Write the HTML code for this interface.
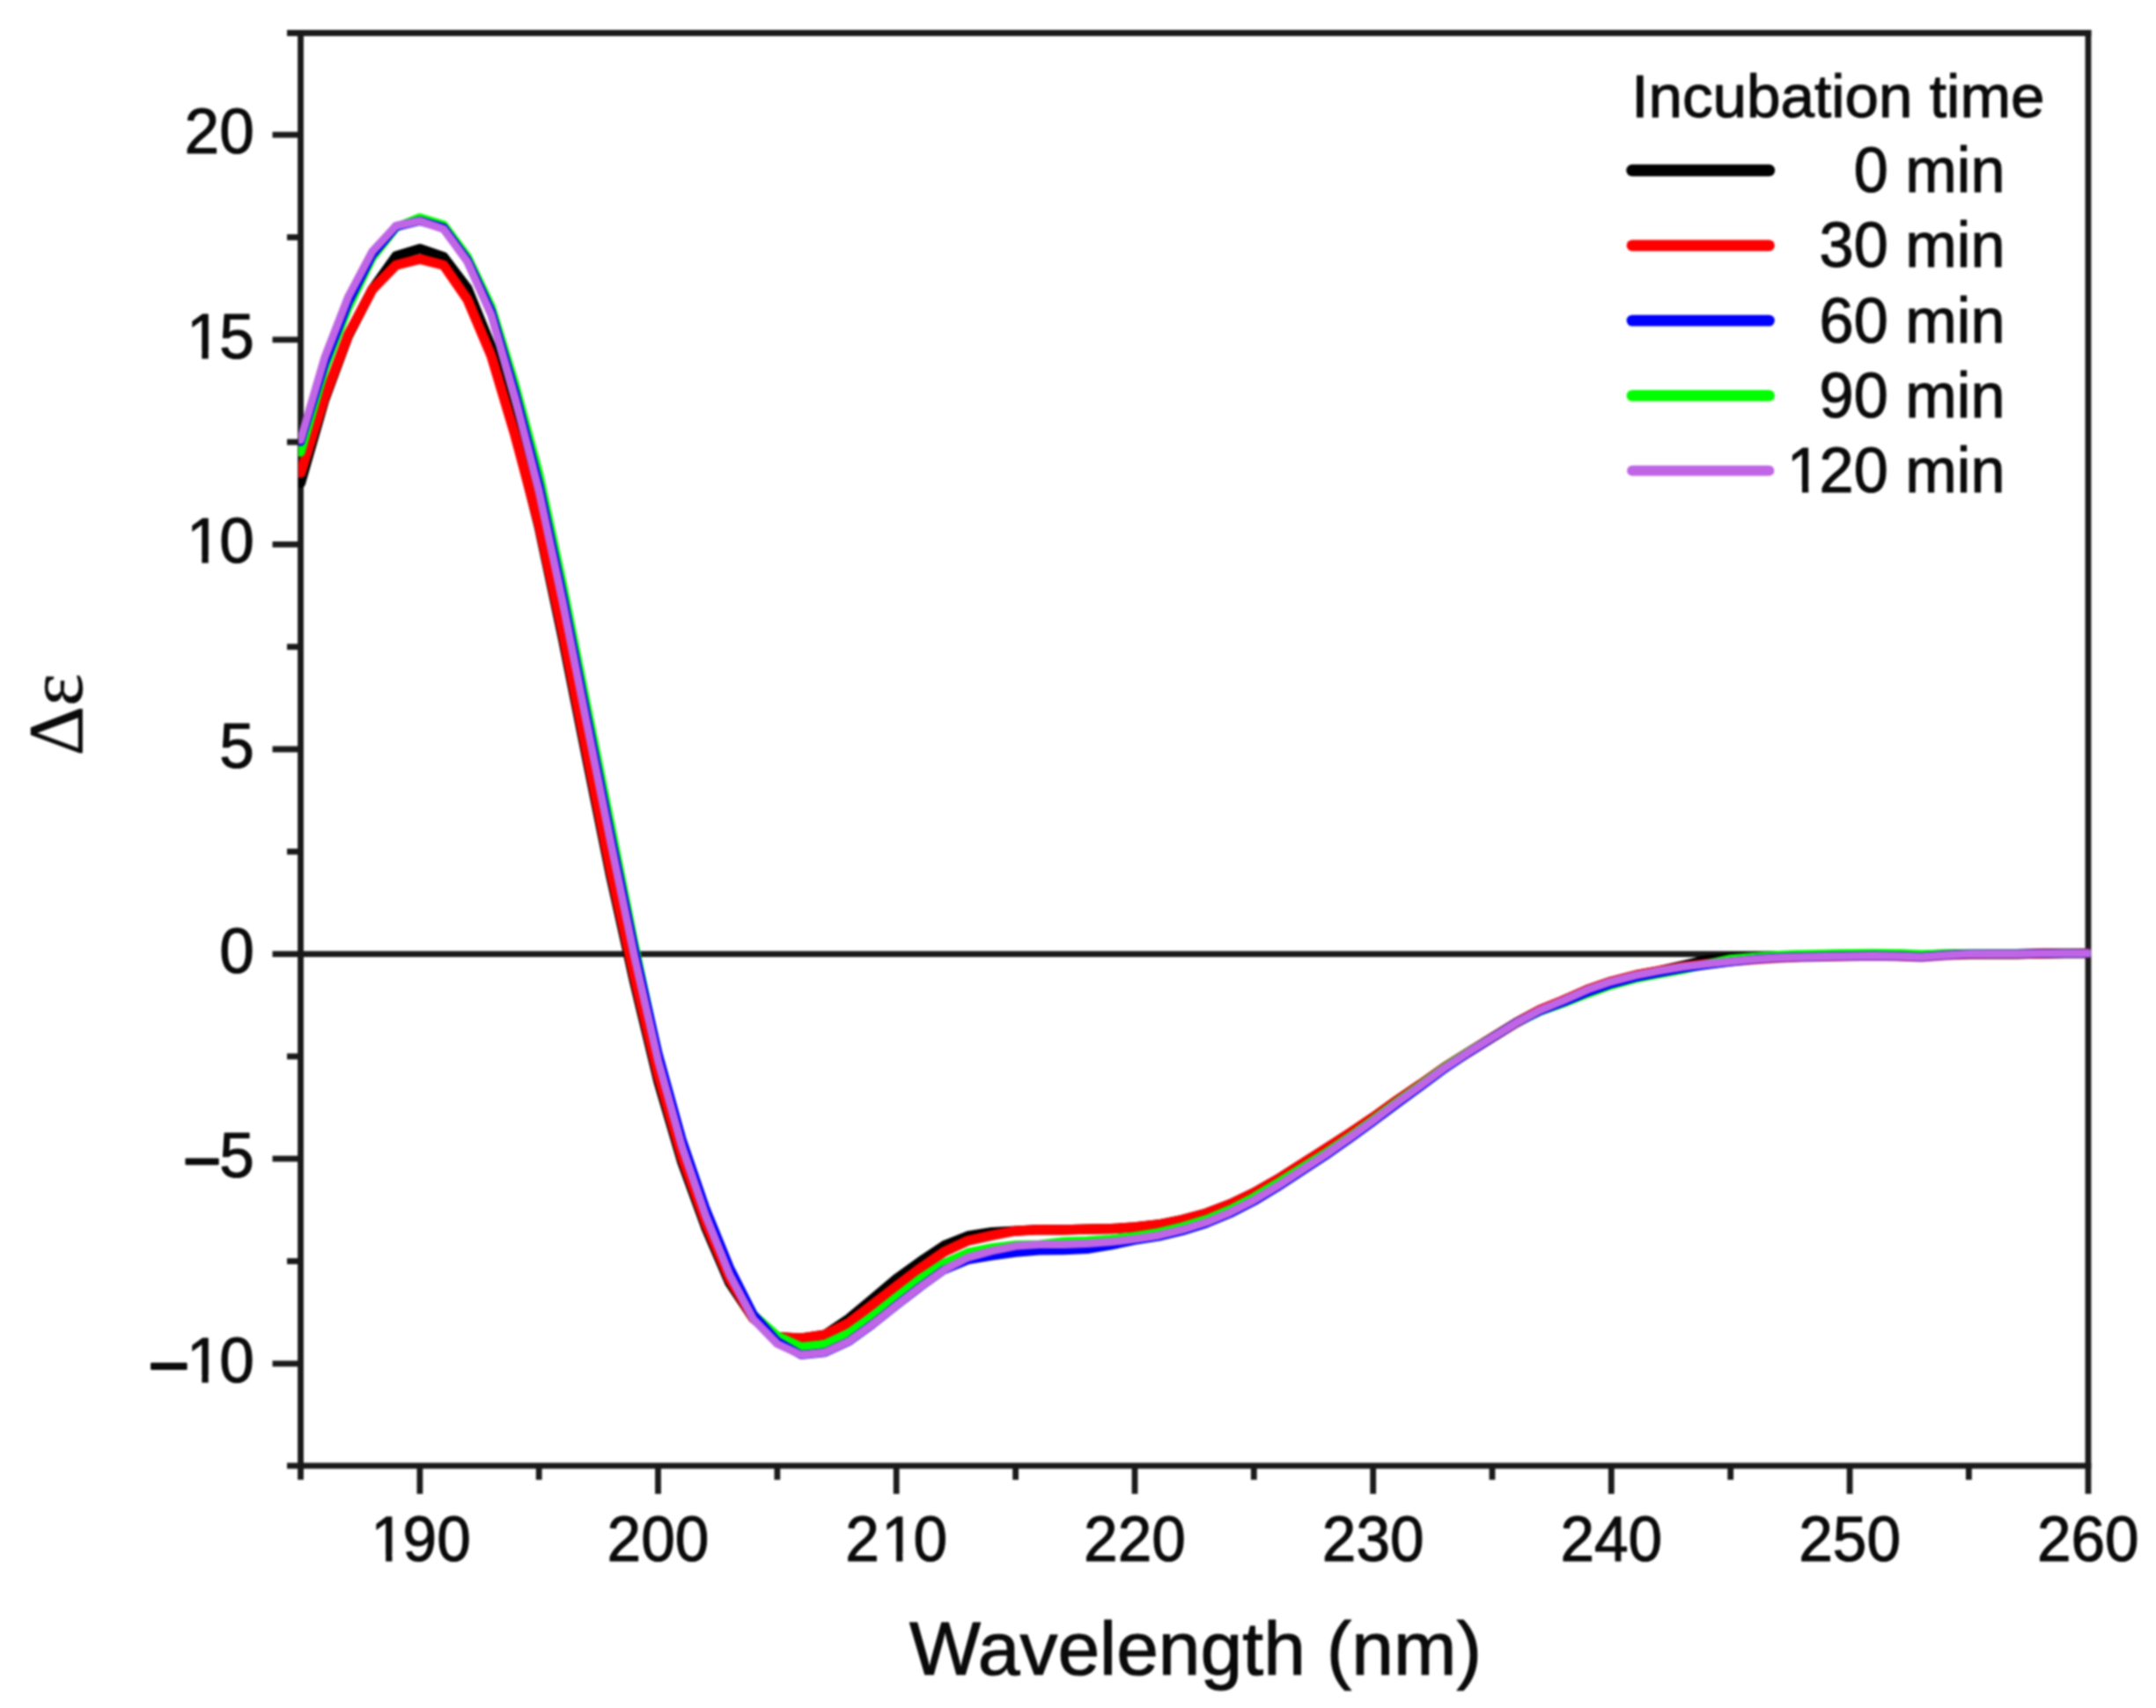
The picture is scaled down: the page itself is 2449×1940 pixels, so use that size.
<!DOCTYPE html>
<html lang="en">
<head>
<meta charset="utf-8">
<title>CD spectra – incubation time</title>
<style>
html,body{margin:0;padding:0;background:#fff;}
body{width:2449px;height:1940px;overflow:hidden;}
svg{display:block;filter:blur(1.3px);}
text{font-family:"Liberation Sans",Arial,Helvetica,sans-serif;fill:#0a0a0a;stroke:#0a0a0a;stroke-width:1.1px;stroke-linejoin:round;}
.tick{font-size:72.3px;}
.leg{font-size:72px;}
.legt{font-size:69.2px;}
.xt{font-size:85.8px;}
.yt{font-family:"Liberation Serif","DejaVu Serif",serif;font-size:88px;stroke-width:0.4px;}
.ax{stroke:#1a1a1a;stroke-width:6.8;fill:none;stroke-linecap:butt;}
.cv{fill:none;stroke-linejoin:round;stroke-linecap:round;}
.ll{fill:none;stroke-linecap:round;}
</style>
</head>
<body>
<svg width="2449" height="1940" viewBox="0 0 2449 1940">
<defs><clipPath id="pc"><rect x="339.0" y="34.5" width="2035.8" height="1633.3"/></clipPath></defs>
<rect x="0" y="0" width="2449" height="1940" fill="#ffffff"/>
<g class="ax">
<path d="M326.0 37.5 H2375.4"/>
<path d="M326.0 1664.8 H2375.4"/>
<path d="M341.5 34.1 V1680.8"/>
<path d="M2372.0 34.1 V1696.8"/>
<path d="M341.5 1083.6 H2372.0"/>
<path d="M309.5 1548.8 H341.5"/>
<path d="M326.0 1432.5 H341.5"/>
<path d="M309.5 1316.2 H341.5"/>
<path d="M326.0 1199.9 H341.5"/>
<path d="M309.5 1083.6 H341.5"/>
<path d="M326.0 967.3 H341.5"/>
<path d="M309.5 851.0 H341.5"/>
<path d="M326.0 734.7 H341.5"/>
<path d="M309.5 618.4 H341.5"/>
<path d="M326.0 502.1 H341.5"/>
<path d="M309.5 385.8 H341.5"/>
<path d="M326.0 269.5 H341.5"/>
<path d="M309.5 153.2 H341.5"/>
<path d="M476.9 1664.8 V1696.8"/>
<path d="M612.2 1664.8 V1680.8"/>
<path d="M747.5 1664.8 V1696.8"/>
<path d="M882.9 1664.8 V1680.8"/>
<path d="M1018.2 1664.8 V1696.8"/>
<path d="M1153.6 1664.8 V1680.8"/>
<path d="M1289.0 1664.8 V1696.8"/>
<path d="M1424.3 1664.8 V1680.8"/>
<path d="M1559.7 1664.8 V1696.8"/>
<path d="M1695.0 1664.8 V1680.8"/>
<path d="M1830.3 1664.8 V1696.8"/>
<path d="M1965.7 1664.8 V1680.8"/>
<path d="M2101.1 1664.8 V1696.8"/>
<path d="M2236.4 1664.8 V1680.8"/>
</g>
<g clip-path="url(#pc)">
<polyline class="cv" stroke="#000000" stroke-width="11.2" points="341.5,548.6 368.6,454.2 395.6,381.4 422.7,329.0 449.8,290.9 476.9,282.5 503.9,291.8 531.0,327.6 558.1,394.2 585.1,490.0 612.2,598.4 639.3,725.4 666.3,860.1 693.4,993.8 720.5,1115.2 747.5,1227.3 774.6,1319.6 801.7,1394.2 828.8,1457.2 855.8,1497.6 882.9,1518.6 910.0,1520.0 937.0,1516.1 964.1,1497.8 991.2,1475.3 1018.2,1452.5 1045.3,1433.0 1072.4,1414.8 1099.5,1403.9 1126.5,1399.5 1153.6,1398.1 1180.7,1396.7 1207.7,1396.9 1234.8,1396.2 1261.9,1395.7 1289.0,1393.9 1316.0,1390.9 1343.1,1385.5 1370.2,1378.1 1397.2,1367.8 1424.3,1354.8 1451.4,1339.5 1478.4,1322.2 1505.5,1305.0 1532.6,1287.4 1559.7,1269.2 1586.7,1249.9 1613.8,1231.5 1640.9,1212.2 1667.9,1195.2 1695.0,1178.5 1722.1,1161.8 1749.1,1147.3 1776.2,1136.2 1803.3,1124.1 1830.3,1114.8 1857.4,1107.8 1884.5,1102.7 1911.6,1096.6 1938.6,1090.1 1965.7,1087.8 1992.8,1087.3 2019.8,1085.7 2046.9,1085.0 2074.0,1084.5 2101.1,1084.1 2128.1,1083.6 2155.2,1084.1 2182.3,1085.0 2209.3,1084.1 2236.4,1083.6 2263.5,1083.6 2290.5,1083.6 2317.6,1083.1 2344.7,1082.7 2371.8,1082.7"/>
<polyline class="cv" stroke="#ff0000" stroke-width="11.2" points="341.5,537.0 368.6,451.9 395.6,380.2 422.7,329.0 449.8,301.1 476.9,294.2 503.9,301.1 531.0,340.2 558.1,404.4 585.1,494.7 612.2,596.1 639.3,719.3 666.3,854.0 693.4,987.8 720.5,1109.2 747.5,1221.3 774.6,1314.3 801.7,1389.7 828.8,1453.4 855.8,1497.6 882.9,1518.6 910.0,1520.0 937.0,1516.1 964.1,1502.4 991.2,1481.8 1018.2,1460.9 1045.3,1440.6 1072.4,1421.8 1099.5,1409.2 1126.5,1403.2 1153.6,1398.1 1180.7,1396.7 1207.7,1396.9 1234.8,1396.2 1261.9,1395.7 1289.0,1393.9 1316.0,1390.9 1343.1,1385.5 1370.2,1378.1 1397.2,1367.8 1424.3,1354.8 1451.4,1339.5 1478.4,1322.2 1505.5,1305.0 1532.6,1287.4 1559.7,1269.2 1586.7,1249.9 1613.8,1231.5 1640.9,1212.2 1667.9,1195.2 1695.0,1178.5 1722.1,1161.8 1749.1,1147.3 1776.2,1136.2 1803.3,1124.1 1830.3,1114.8 1857.4,1107.8 1884.5,1102.7 1911.6,1098.0 1938.6,1094.8 1965.7,1092.0 1992.8,1089.6 2019.8,1087.8 2046.9,1086.9 2074.0,1086.4 2101.1,1085.9 2128.1,1085.5 2155.2,1085.9 2182.3,1086.9 2209.3,1085.0 2236.4,1083.6 2263.5,1083.6 2290.5,1083.6 2317.6,1083.1 2344.7,1082.7 2371.8,1082.7"/>
<polyline class="cv" stroke="#00ff00" stroke-width="10" points="341.5,513.7 368.6,419.8 395.6,349.0 422.7,292.8 449.8,258.3 476.9,247.2 503.9,255.5 531.0,291.8 558.1,348.6 585.1,437.0 612.2,538.4 639.3,664.9 666.3,800.8 693.4,935.7 720.5,1072.0 747.5,1199.0 774.6,1297.3 801.7,1377.0 828.8,1444.1 855.8,1493.0 882.9,1517.2 910.0,1529.7 937.0,1526.9 964.1,1514.4 991.2,1494.8 1018.2,1473.4 1045.3,1452.5 1072.4,1434.8 1099.5,1422.7 1126.5,1417.1 1153.6,1413.9 1180.7,1413.4 1207.7,1410.2 1234.8,1409.2 1261.9,1407.4 1289.0,1404.1 1316.0,1399.9 1343.1,1393.4 1370.2,1385.0 1397.2,1373.9 1424.3,1359.9 1451.4,1343.6 1478.4,1326.7 1505.5,1309.8 1532.6,1291.5 1559.7,1272.1 1586.7,1251.8 1613.8,1232.4 1640.9,1212.5 1667.9,1195.0 1695.0,1178.4 1722.1,1161.8 1749.1,1148.9 1776.2,1139.3 1803.3,1128.7 1830.3,1119.1 1857.4,1111.7 1884.5,1106.3 1911.6,1101.3 1938.6,1095.0 1965.7,1089.2 1992.8,1086.9 2019.8,1085.0 2046.9,1084.1 2074.0,1083.6 2101.1,1083.1 2128.1,1082.7 2155.2,1083.1 2182.3,1084.1 2209.3,1083.4 2236.4,1083.1 2263.5,1083.2 2290.5,1083.3 2317.6,1082.9 2344.7,1082.6 2371.8,1082.7"/>
<polyline class="cv" stroke="#0000ff" stroke-width="10" points="341.5,501.6 368.6,412.8 395.6,343.0 422.7,289.5 449.8,257.4 476.9,250.9 503.9,258.8 531.0,295.6 558.1,354.2 585.1,446.3 612.2,550.9 639.3,677.5 666.3,813.3 693.4,948.2 720.5,1078.0 747.5,1196.2 774.6,1293.9 801.7,1373.0 828.8,1439.5 855.8,1493.0 882.9,1523.7 910.0,1539.0 937.0,1536.2 964.1,1523.7 991.2,1504.1 1018.2,1482.7 1045.3,1461.8 1072.4,1442.3 1099.5,1431.1 1126.5,1426.5 1153.6,1422.7 1180.7,1420.6 1207.7,1420.2 1234.8,1419.0 1261.9,1414.6 1289.0,1408.8 1316.0,1404.6 1343.1,1398.1 1370.2,1389.7 1397.2,1378.5 1424.3,1364.6 1451.4,1348.3 1478.4,1330.6 1505.5,1312.9 1532.6,1293.9 1559.7,1274.3 1586.7,1253.9 1613.8,1234.3 1640.9,1214.0 1667.9,1195.9 1695.0,1178.8 1722.1,1161.8 1749.1,1148.3 1776.2,1138.0 1803.3,1126.9 1830.3,1117.3 1857.4,1110.1 1884.5,1104.8 1911.6,1099.9 1938.6,1096.0 1965.7,1092.6 1992.8,1089.6 2019.8,1087.8 2046.9,1086.9 2074.0,1086.4 2101.1,1085.9 2128.1,1085.5 2155.2,1085.9 2182.3,1086.9 2209.3,1085.0 2236.4,1083.6 2263.5,1083.6 2290.5,1083.6 2317.6,1083.1 2344.7,1082.7 2371.8,1082.7"/>
<polyline class="cv" stroke="#bf65e5" stroke-width="9" points="341.5,499.8 368.6,406.7 395.6,337.0 422.7,285.8 449.8,256.5 476.9,250.9 503.9,260.2 531.0,297.4 558.1,357.9 585.1,451.9 612.2,557.9 639.3,684.5 666.3,820.3 693.4,955.2 720.5,1085.9 747.5,1204.6 774.6,1302.2 801.7,1381.3 828.8,1447.9 855.8,1498.6 882.9,1526.5 910.0,1539.0 937.0,1536.2 964.1,1523.7 991.2,1504.1 1018.2,1482.7 1045.3,1461.8 1072.4,1442.3 1099.5,1428.3 1126.5,1420.9 1153.6,1415.3 1180.7,1413.4 1207.7,1413.4 1234.8,1412.5 1261.9,1410.6 1289.0,1407.4 1316.0,1403.2 1343.1,1396.7 1370.2,1388.3 1397.2,1377.1 1424.3,1363.2 1451.4,1346.9 1478.4,1329.2 1505.5,1311.5 1532.6,1292.5 1559.7,1272.9 1586.7,1252.5 1613.8,1232.9 1640.9,1212.9 1667.9,1195.2 1695.0,1178.5 1722.1,1161.8 1749.1,1147.3 1776.2,1136.2 1803.3,1124.1 1830.3,1114.8 1857.4,1107.8 1884.5,1102.7 1911.6,1098.0 1938.6,1094.8 1965.7,1092.0 1992.8,1089.6 2019.8,1087.8 2046.9,1086.9 2074.0,1086.4 2101.1,1085.9 2128.1,1085.5 2155.2,1085.9 2182.3,1086.9 2209.3,1085.0 2236.4,1083.6 2263.5,1083.6 2290.5,1083.6 2317.6,1083.1 2344.7,1082.7 2371.8,1082.7"/>
</g>
<g transform="translate(288.8,174.2) scale(0.985,1)"><text class="tick" x="-80.42 -40.21" y="0">20</text></g>
<g transform="translate(288.8,406.8) scale(0.985,1)"><text class="tick" x="-78.02 -40.21" y="0">15</text><rect x="-73.91" y="-7.80" width="13.52" height="9.60" fill="#fff"/><rect x="-52.90" y="-7.80" width="12.96" height="9.60" fill="#fff"/></g>
<g transform="translate(288.8,639.4) scale(0.985,1)"><text class="tick" x="-78.02 -40.21" y="0">10</text><rect x="-73.91" y="-7.80" width="13.52" height="9.60" fill="#fff"/><rect x="-52.90" y="-7.80" width="12.96" height="9.60" fill="#fff"/></g>
<g transform="translate(288.8,872.0) scale(0.985,1)"><text class="tick" x="-40.21" y="0">5</text></g>
<g transform="translate(288.8,1104.6) scale(0.985,1)"><text class="tick" x="-40.21" y="0">0</text></g>
<g transform="translate(288.8,1337.2) scale(0.985,1)"><text class="tick" x="-82.10 -40.21" y="0"><tspan style="font-size:75px;stroke-width:2.4px" dy="6.7">−</tspan><tspan dy="-6.7">5</tspan></text></g>
<g transform="translate(288.8,1569.8) scale(0.985,1)"><text class="tick" x="-122.31 -78.02 -40.21" y="0"><tspan style="font-size:82px;stroke-width:2.4px" dy="9.0">−</tspan><tspan dy="-9.0">10</tspan></text><rect x="-73.91" y="-7.80" width="13.52" height="9.60" fill="#fff"/><rect x="-52.90" y="-7.80" width="12.96" height="9.60" fill="#fff"/></g>
<g transform="translate(476.9,1773.2) scale(0.96,1)"><text class="tick" x="-57.91 -20.10 20.10" y="0">190</text><rect x="-53.81" y="-7.80" width="13.52" height="9.60" fill="#fff"/><rect x="-32.79" y="-7.80" width="12.96" height="9.60" fill="#fff"/></g>
<g transform="translate(747.5,1773.2) scale(0.96,1)"><text class="tick" x="-60.31 -20.10 20.10" y="0">200</text></g>
<g transform="translate(1018.2,1773.2) scale(0.96,1)"><text class="tick" x="-60.31 -17.70 20.10" y="0">210</text><rect x="-13.60" y="-7.80" width="13.52" height="9.60" fill="#fff"/><rect x="7.42" y="-7.80" width="12.96" height="9.60" fill="#fff"/></g>
<g transform="translate(1289.0,1773.2) scale(0.96,1)"><text class="tick" x="-60.31 -20.10 20.10" y="0">220</text></g>
<g transform="translate(1559.7,1773.2) scale(0.96,1)"><text class="tick" x="-60.31 -20.10 20.10" y="0">230</text></g>
<g transform="translate(1830.3,1773.2) scale(0.96,1)"><text class="tick" x="-60.31 -20.10 20.10" y="0">240</text></g>
<g transform="translate(2101.1,1773.2) scale(0.96,1)"><text class="tick" x="-60.31 -20.10 20.10" y="0">250</text></g>
<g transform="translate(2371.8,1773.2) scale(0.96,1)"><text class="tick" x="-60.31 -20.10 20.10" y="0">260</text></g>
<text class="xt" x="1358" y="1902" text-anchor="middle">Wavelength (nm)</text>
<text class="yt" transform="translate(93,858.5) rotate(-90)">Δε</text>
<text class="legt" x="1853.3" y="132.5">Incubation time</text>
<path class="ll" stroke="#000000" stroke-width="13.5" d="M1854 193.5 H2009.5"/>
<g transform="translate(2277.5,218.0) scale(0.976,1)"><text class="leg" x="-176.06 -136.02 -116.02 -56.04 -40.04" y="0">0 min</text></g>
<path class="ll" stroke="#ff0000" stroke-width="12.8" d="M1854 278.8 H2009.5"/>
<g transform="translate(2277.5,303.3) scale(0.976,1)"><text class="leg" x="-216.11 -176.06 -136.02 -116.02 -56.04 -40.04" y="0">30 min</text></g>
<path class="ll" stroke="#0000ff" stroke-width="12.8" d="M1854 364.1 H2009.5"/>
<g transform="translate(2277.5,388.6) scale(0.976,1)"><text class="leg" x="-216.11 -176.06 -136.02 -116.02 -56.04 -40.04" y="0">60 min</text></g>
<path class="ll" stroke="#00ff00" stroke-width="12.8" d="M1854 449.4 H2009.5"/>
<g transform="translate(2277.5,473.9) scale(0.976,1)"><text class="leg" x="-216.11 -176.06 -136.02 -116.02 -56.04 -40.04" y="0">90 min</text></g>
<path class="ll" stroke="#bf65e5" stroke-width="11.8" d="M1854 534.7 H2009.5"/>
<g transform="translate(2277.5,559.2) scale(0.976,1)"><text class="leg" x="-253.75 -216.11 -176.06 -136.02 -116.02 -56.04 -40.04" y="0">120 min</text><rect x="-249.66" y="-7.78" width="13.47" height="9.58" fill="#fff"/><rect x="-228.73" y="-7.78" width="12.91" height="9.58" fill="#fff"/></g>
</svg>
</body>
</html>
